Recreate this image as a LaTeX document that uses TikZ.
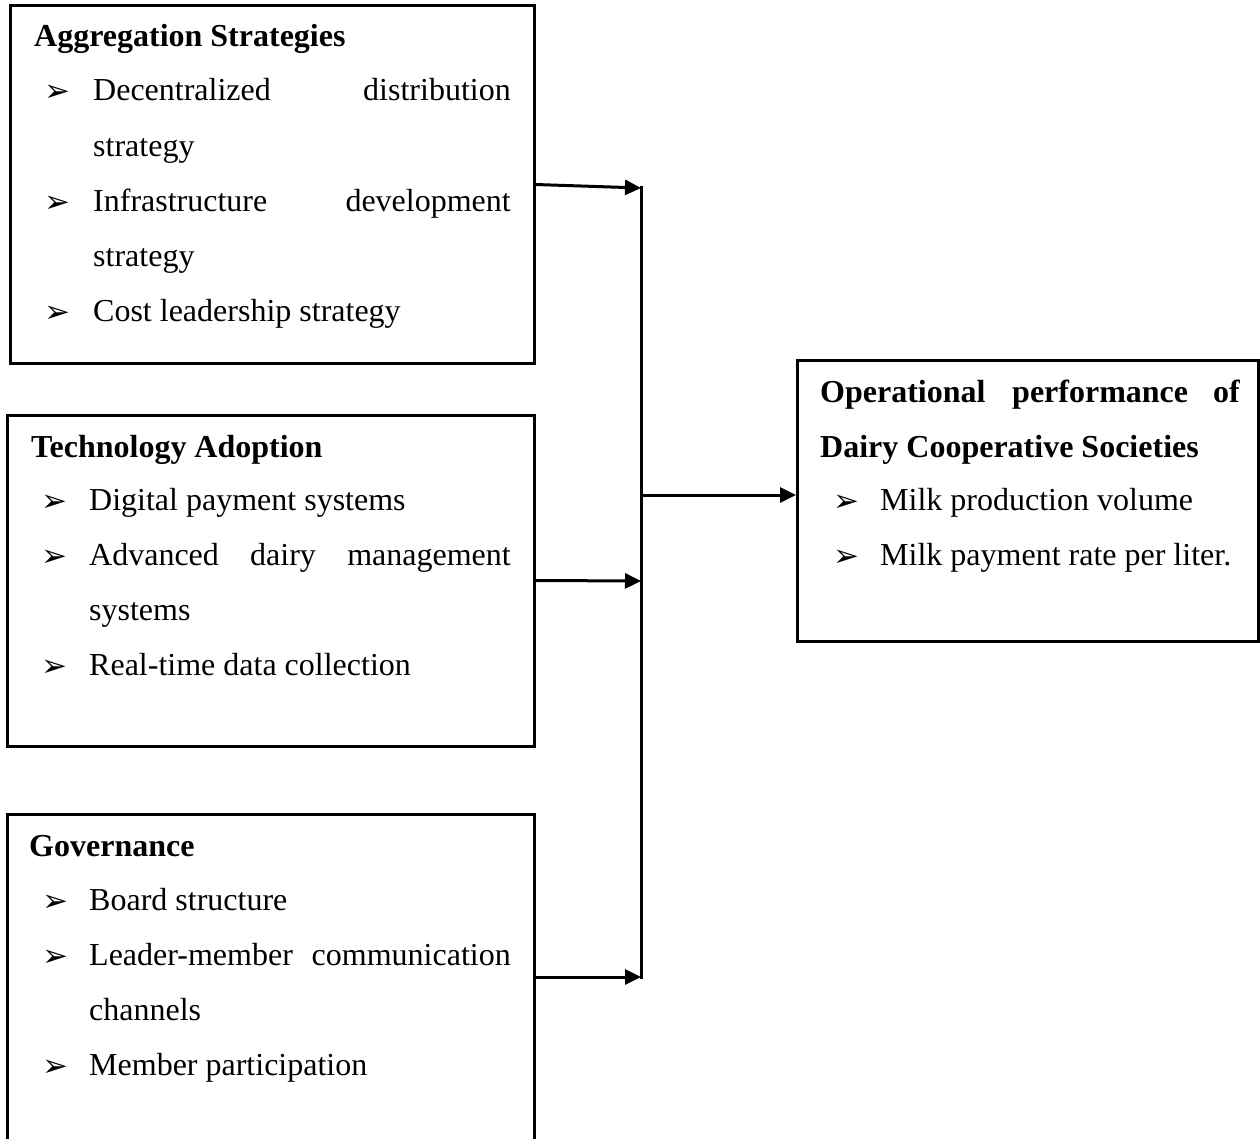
\documentclass[tikz,border=0pt]{standalone}
\usepackage{fontspec}
\setmainfont{Liberation Serif}
\newfontfamily\dejavu{DejaVu Sans}
\usetikzlibrary{arrows.meta}
\tikzset{
  box/.style={draw, line width=3pt, rectangle, inner sep=0pt},
  txt/.style={anchor=base west, inner sep=0pt, font=\fontsize{32}{38}\selectfont},
  rtxt/.style={anchor=base east, inner sep=0pt, font=\fontsize{32}{38}\selectfont},
  head/.style={anchor=base west, inner sep=0pt, font=\fontsize{32}{38}\selectfont\bfseries},
  bul/.style={anchor=base west, inner sep=0pt, font=\dejavu\fontsize{31}{34}\selectfont},
  arr/.style={line width=3pt, -{Triangle[length=16pt,width=15pt]}},
  conn/.style={line width=3pt}
}
\begin{document}
\begin{tikzpicture}[x=1pt,y=-1pt]
\clip (0,0) rectangle (1260,1139);
% boxes
\node[box, minimum width=523.5pt, minimum height=357pt] (b1) at (272.25,184.5) {};
\node[box, minimum width=527pt, minimum height=331pt] (b2) at (270.5,580.5) {};
\node[box, minimum width=527pt, minimum height=336pt] (b3) at (270.5,982) {};
\node[box, minimum width=460.5pt, minimum height=281pt] (b4) at (1027.75,500.5) {};

% Box 1 text
\node[head] (h1) at (34,47) {Aggregation Strategies};
\node[bul] (p11) at (44,102) {➢};
\node[txt] (t11a) at (93,101) {Decentralized};
\node[rtxt] (t11b) at (511,101) {distribution};
\node[txt] (t11c) at (93,157) {strategy};
\node[bul] (p12) at (44,213) {➢};
\node[txt] (t12a) at (93,212) {Infrastructure};
\node[rtxt] (t12b) at (511,212) {development};
\node[txt] (t12c) at (93,267) {strategy};
\node[bul] (p13) at (44,323) {➢};
\node[txt] (t13) at (93,322) {Cost leadership strategy};

% Box 2 text
\node[head] (h2) at (31,457) {Technology Adoption};
\node[bul] (p21) at (41,511) {➢};
\node[txt] (t21) at (89,510) {Digital payment systems};
\node[bul] (p22) at (41,566) {➢};
\node[txt] (t22a) at (89,565) {Advanced};
\node[txt] (t22b) at (250,565) {dairy};
\node[rtxt] (t22c) at (511,565) {management};
\node[txt] (t22d) at (89,620) {systems};
\node[bul] (p23) at (41,676) {➢};
\node[txt] (t23) at (89,675) {Real-time data collection};

% Box 3 text
\node[head] (h3) at (29,856) {Governance};
\node[bul] (p31) at (42,911) {➢};
\node[txt] (t31) at (89,910) {Board structure};
\node[bul] (p32) at (42,966) {➢};
\node[txt] (t32a) at (89,965) {Leader-member};
\node[rtxt] (t32b) at (511,965) {communication};
\node[txt] (t32c) at (89,1020) {channels};
\node[bul] (p33) at (42,1076) {➢};
\node[txt] (t33) at (89,1075) {Member participation};

% Box 4 text
\node[head] (h4a) at (820,402) {Operational};
\node[head] (h4b) at (1012,402) {performance};
\node[head, anchor=base east] (h4c) at (1240,402) {of};
\node[head] (h4d) at (820,457) {Dairy Cooperative Societies};
\node[bul] (p41) at (833,511) {➢};
\node[txt] (t41) at (880,510) {Milk production volume};
\node[bul] (p42) at (833,566) {➢};
\node[txt] (t42) at (880,565) {Milk payment rate per liter.};

% connectors
\coordinate (vt) at (641,186);
\coordinate (vb) at (641,979);
\coordinate (j1) at (641,188);
\coordinate (j2) at (641,581);
\coordinate (j3) at (641,977);
\coordinate (jm) at (641,495);
\draw[conn] (vt) -- (vb);
\draw[arr] (b1.east) -- (j1);
\draw[arr] (b2.east) -- (j2);
\draw[arr] (j3 -| b3.east) -- (j3);
\draw[arr] (jm) -- (b4.west |- jm);
\end{tikzpicture}
\end{document}
